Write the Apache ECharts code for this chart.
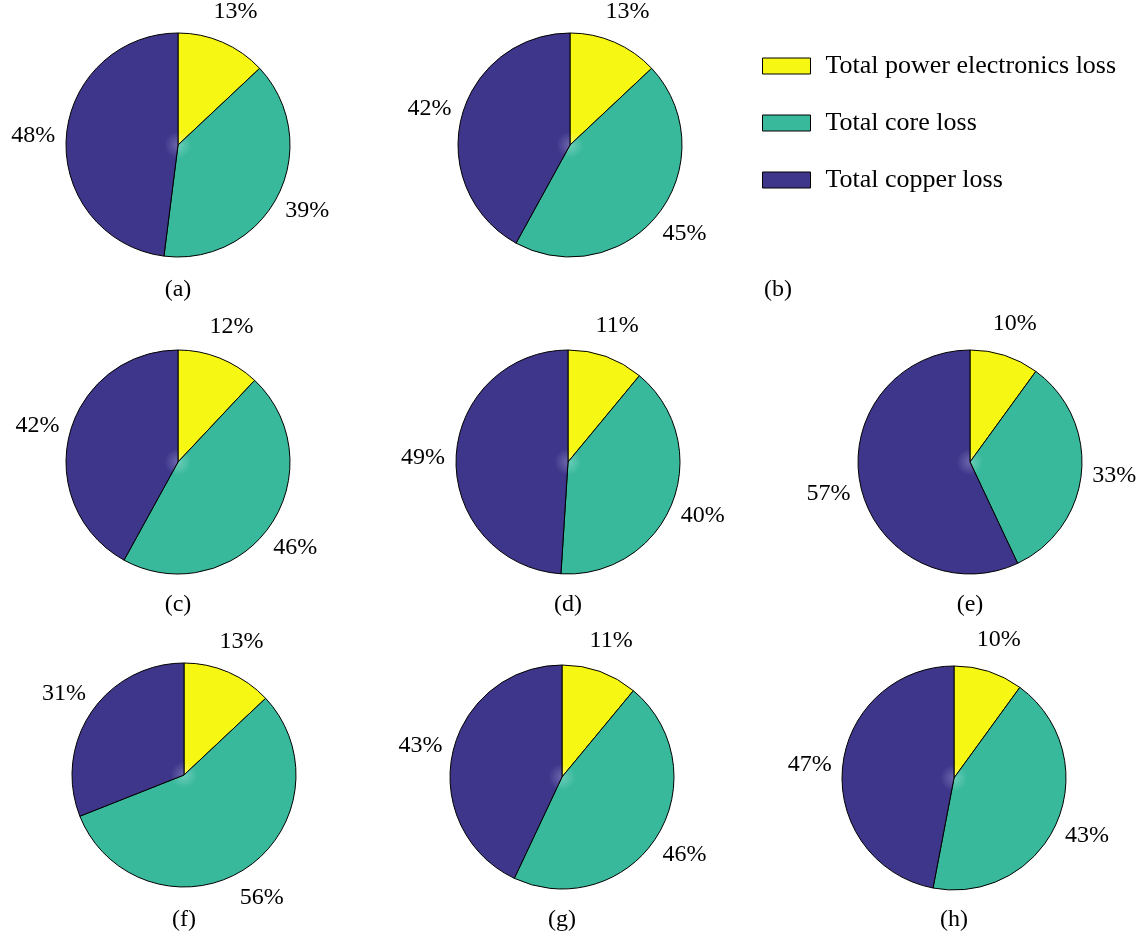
<!DOCTYPE html>
<html><head><meta charset="utf-8">
<script src="https://cdn.jsdelivr.net/npm/echarts@6/dist/echarts.min.js"></script>
<style>html,body{margin:0;padding:0;background:#fff}#c{width:1147px;height:938px}</style>
</head><body><div id="c"></div>
<script>
// ---- data ----
const categories = ['Total power electronics loss', 'Total core loss', 'Total copper loss'];
const panelLabels = ['(a)', '(b)', '(c)', '(d)', '(e)', '(f)', '(g)', '(h)'];
const powerElectronicsLoss = [13, 13, 12, 11, 10, 13, 11, 10];
const coreLoss = [39, 45, 46, 40, 33, 56, 46, 43];
const copperLoss = [48, 42, 42, 49, 57, 31, 43, 47];

// ---- style / layout ----
const FONT = '"Liberation Serif", "Times New Roman", serif';
const colors = ['#f7f714', '#38b99c', '#3e368a'];
const glow = ['#f9f970', '#6ccdb8', '#6e67ad'];
const centers = [[178, 145], [570, 145], [178, 462], [568, 462], [970, 462], [184, 775], [562, 777], [954, 778]];
const panelLabelPos = [[178, 290], [778, 290], [178, 605], [568, 605], [970, 605], [184, 920], [562, 920], [954, 920]];
const RADIUS = 112;
const LABEL_R = 145;

const seriesValues = [powerElectronicsLoss, coreLoss, copperLoss];

const series = centers.map((c, i) => {
  const vals = seriesValues.map(s => s[i]);
  const total = vals.reduce((a, b) => a + b, 0);
  return {
    type: 'pie',
    center: c,
    radius: RADIUS,
    startAngle: 90,
    clockwise: true,
    silent: true,
    avoidLabelOverlap: false,
    emphasis: { disabled: true },
    itemStyle: { borderColor: '#000', borderWidth: 1 },
    label: {
      show: true, position: 'outside',
      formatter: p => p.value + '%',
      fontFamily: FONT, fontSize: 24, color: '#000'
    },
    labelLine: { show: false },
    labelLayout: function (p) {
      let cum = 0;
      for (let k = 0; k < p.dataIndex; k++) cum += vals[k];
      const mid = (cum + vals[p.dataIndex] / 2) / total * 2 * Math.PI;
      return {
        x: c[0] + LABEL_R * Math.sin(mid),
        y: c[1] - LABEL_R * Math.cos(mid),
        align: 'center', verticalAlign: 'middle'
      };
    },
    data: categories.map((name, k) => ({
      name: name,
      value: vals[k],
      itemStyle: {
        color: {
          type: 'radial', x: c[0], y: c[1], r: RADIUS, global: true,
          colorStops: [
            { offset: 0, color: glow[k] },
            { offset: 0.12, color: colors[k] },
            { offset: 1, color: colors[k] }
          ]
        }
      }
    }))
  };
});

const chart = echarts.init(document.getElementById('c'), null, { renderer: 'canvas' });
chart.setOption({
  animation: false,
  backgroundColor: '#fff',
  legend: {
    orient: 'vertical',
    left: 757, top: 48,
    itemWidth: 48, itemHeight: 16, itemGap: 31,
    icon: 'rect',
    selectedMode: false,
    textStyle: { fontFamily: FONT, fontSize: 26, color: '#000', lineHeight: 26, padding: [0, 0, 0, 10] },
    data: categories.map((name, k) => ({
      name: name,
      itemStyle: { color: colors[k], borderColor: '#000', borderWidth: 1 }
    }))
  },
  graphic: panelLabels.map((t, i) => ({
    type: 'text',
    x: panelLabelPos[i][0], y: panelLabelPos[i][1],
    style: {
      text: t, fill: '#000', font: '24px ' + FONT,
      align: 'center', verticalAlign: 'middle',
      textAlign: 'center', textVerticalAlign: 'middle'
    }
  })),
  series: series
});
</script></body></html>
